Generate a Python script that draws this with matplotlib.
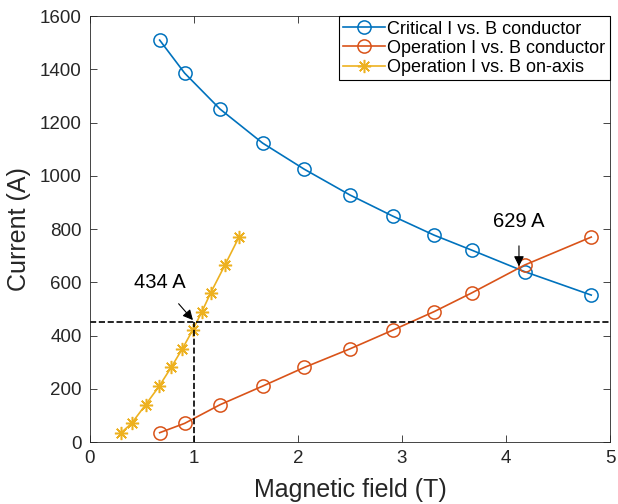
import numpy as np
import matplotlib
matplotlib.use('Agg')
import matplotlib.pyplot as plt

plt.rcParams['font.family'] = ['Liberation Sans', 'DejaVu Sans']

# Datos
b_critical = [0.67, 0.91, 1.25, 1.66, 2.06, 2.50, 2.91, 3.31, 3.67, 4.18, 4.82]
i_critical = [1510, 1386, 1251, 1123, 1025, 928, 849, 777, 721, 640, 552]

b_op_cond = [0.67, 0.91, 1.25, 1.66, 2.06, 2.50, 2.91, 3.31, 3.67, 4.18, 4.82]
i_op_cond = [35, 70, 140, 210, 280, 350, 420, 490, 560, 665, 770]

b_op_axis = [0.30, 0.40, 0.535, 0.666, 0.78, 0.888, 0.987, 1.077, 1.16, 1.298, 1.433]
i_op_axis = [35, 70, 140, 210, 280, 350, 420, 490, 560, 665, 770]

labels = ['Critical I vs. B conductor', 'Operation I vs. B conductor',
          'Operation I vs. B on-axis']
i_limit = 450
b_limit = 1.0

blue = '#0072BD'
orange = '#D95319'
yellow = '#EDB120'
axcol = '#262626'

fig = plt.figure(figsize=(6.18, 5.04), dpi=100)
ax = fig.add_axes([0.1456, 0.123, 0.8414, 0.845])

ax.plot(b_critical, i_critical, '-o', color=blue, mfc='none', ms=9.5, mew=1.1, lw=1.2,
        label=labels[0])
ax.plot(b_op_cond, i_op_cond, '-o', color=orange, mfc='none', ms=9.5, mew=1.1, lw=1.2,
        label=labels[1])
ax.plot(b_op_axis, i_op_axis, '-', color=yellow, marker=(8, 2, 0), ms=9.5, mew=1.1, lw=1.2,
        label=labels[2])

# Lineas discontinuas
ax.plot([0, 5], [i_limit, i_limit], '--', color='k', lw=1.2)
ax.plot([b_limit, b_limit], [0, i_limit], '--', color='k', lw=1.2)

# Anotaciones
ax.annotate('434 A', xy=(0.99, 458), xytext=(0.67, 601), ha='center', va='center',
            fontsize=14.5, arrowprops=dict(arrowstyle='-|>', color='k', lw=0.8,
                                           mutation_scale=15, shrinkA=9, shrinkB=0))
ax.annotate('629 A', xy=(4.125, 660), xytext=(4.125, 830), ha='center', va='center',
            fontsize=14.5, arrowprops=dict(arrowstyle='-|>', color='k', lw=0.8,
                                           mutation_scale=15, shrinkA=9, shrinkB=0))

ax.set_xlim(0, 5)
ax.set_ylim(0, 1600)
ax.set_xticks(range(0, 6))
ax.set_yticks(range(0, 1601, 200))
ax.set_xlabel('Magnetic field (T)', fontsize=18, color=axcol, labelpad=8)
ax.set_ylabel('Current (A)', fontsize=18, color=axcol, labelpad=6)
ax.tick_params(direction='in', length=5, width=0.6, colors=axcol, labelsize=13.5,
               top=True, right=True, labeltop=False, labelright=False, pad=6)
for s in ax.spines.values():
    s.set_color(axcol)
    s.set_linewidth(0.6)

leg = ax.legend(loc='upper right', borderaxespad=0, fontsize=13, fancybox=False,
                edgecolor='k', framealpha=1, handlelength=2.3, labelspacing=0.12,
                handletextpad=0.15, borderpad=0.25)
leg.get_frame().set_linewidth(0.8)

plt.savefig('out.png', dpi=100)
plt.close()
